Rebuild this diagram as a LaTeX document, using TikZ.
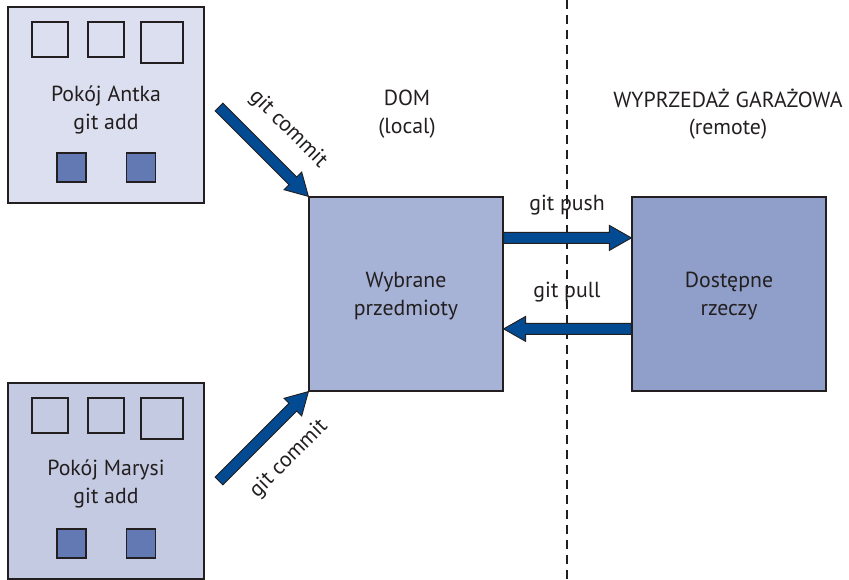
\documentclass[tikz,border=0pt]{standalone}
\usepackage{fontspec}
\setmainfont{PT Sans}
\usetikzlibrary{calc}
\definecolor{roomA}{HTML}{DCDFEF}
\definecolor{roomB}{HTML}{C5CAE3}
\definecolor{localc}{HTML}{A6B3D6}
\definecolor{remotec}{HTML}{8F9FCA}
\definecolor{itemc}{HTML}{6379B4}
\definecolor{arrowc}{HTML}{024A91}
\definecolor{inkc}{HTML}{231F20}
\tikzset{
  box/.style={draw=inkc, line width=1.2pt, minimum width=196, minimum height=196, inner sep=0pt},
  emptysq/.style={draw=inkc, line width=1.2pt, inner sep=0pt},
  fullsq/.style={draw=inkc, line width=1.2pt, fill=itemc, minimum width=29, minimum height=29, inner sep=0pt},
  lbl/.style={text=inkc, font=\fontsize{21.8}{27.5}\selectfont, align=center, inner sep=0pt},
  blockarr/.style={fill=arrowc, draw=inkc, line width=0.9pt, line join=miter},
}
\newcommand\blockarrow[2]{%
  \path ($(#2)!22pt!(#1)$) coordinate (hb);
  \filldraw[blockarr] ($(#1)!5.5pt!90:(#2)$) -- ($(hb)!5.5pt!90:(#2)$) -- ($(hb)!12.5pt!90:(#2)$) -- (#2)
    -- ($(hb)!12.5pt!-90:(#2)$) -- ($(hb)!5.5pt!-90:(#2)$) -- ($(#1)!5.5pt!-90:(#2)$) -- cycle;}
\begin{document}
\begin{tikzpicture}[x=1pt,y=-1pt]
\useasboundingbox (0,0) rectangle (849,580);
% dashed divider
\coordinate (dtop) at (567,0);
\coordinate (dbot) at (567,580);
\draw[inkc, line width=1.4pt, dash pattern=on 9pt off 6pt] (dtop) -- (dbot);

% rooms
\node[box, fill=roomA] (antek) at (106,105) {};
\node[box, fill=roomB] (marysia) at (106,481) {};
\foreach \r/\dy in {a/0, m/376}{
  \node[emptysq, minimum width=36, minimum height=35] (\r s1) at (50,39.5+\dy) {};
  \node[emptysq, minimum width=36, minimum height=35] (\r s2) at (106,39.5+\dy) {};
  \node[emptysq, minimum width=42, minimum height=41] (\r s3) at (162,42.5+\dy) {};
  \node[fullsq] (\r f1) at (71.5,167.5+\dy) {};
  \node[fullsq] (\r f2) at (141,167.5+\dy) {};
}
\node[lbl] (antekt) at (106,110) {Pokój Antka\\git add};
\node[lbl] (marysiat) at (106,484) {Pokój Marysi\\git add};

% main boxes
\node[box, fill=localc, minimum width=194, minimum height=194] (local) at (406,294) {};
\node[box, fill=remotec, minimum width=194, minimum height=194] (remote) at (729,294) {};
\node[lbl] (localt) at (406,296) {Wybrane\\przedmioty};
\node[lbl] (remotet) at (729,296) {Dostępne\\rzeczy};

% headings
\node[lbl] (dom) at (407,114) {DOM\\(local)};
\node[lbl] (garaz) at (728,114) {WYPRZEDAŻ GARAŻOWA\\(remote)};

% commit arrows
\coordinate (ca) at (219,107);
\coordinate (cm) at (219,481);
\blockarrow{ca}{local.north west}
\blockarrow{cm}{local.south west}
\node[lbl, rotate=-45] (commitA) at (288,129) {git commit};
\node[lbl, rotate=45] (commitM) at (289,459) {git commit};

% push / pull
\coordinate (pushS) at ($(local.north east)+(0,41.5)$);
\coordinate (pushE) at ($(remote.north west)+(0,41.5)$);
\coordinate (pullS) at ($(remote.north west)+(0,132.5)$);
\coordinate (pullE) at ($(local.north east)+(0,132.5)$);
\blockarrow{pushS}{pushE}
\blockarrow{pullS}{pullE}
\node[lbl] (pusht) at (567,205) {git push};
\node[lbl] (pullt) at (567,292) {git pull};
\end{tikzpicture}
\end{document}
